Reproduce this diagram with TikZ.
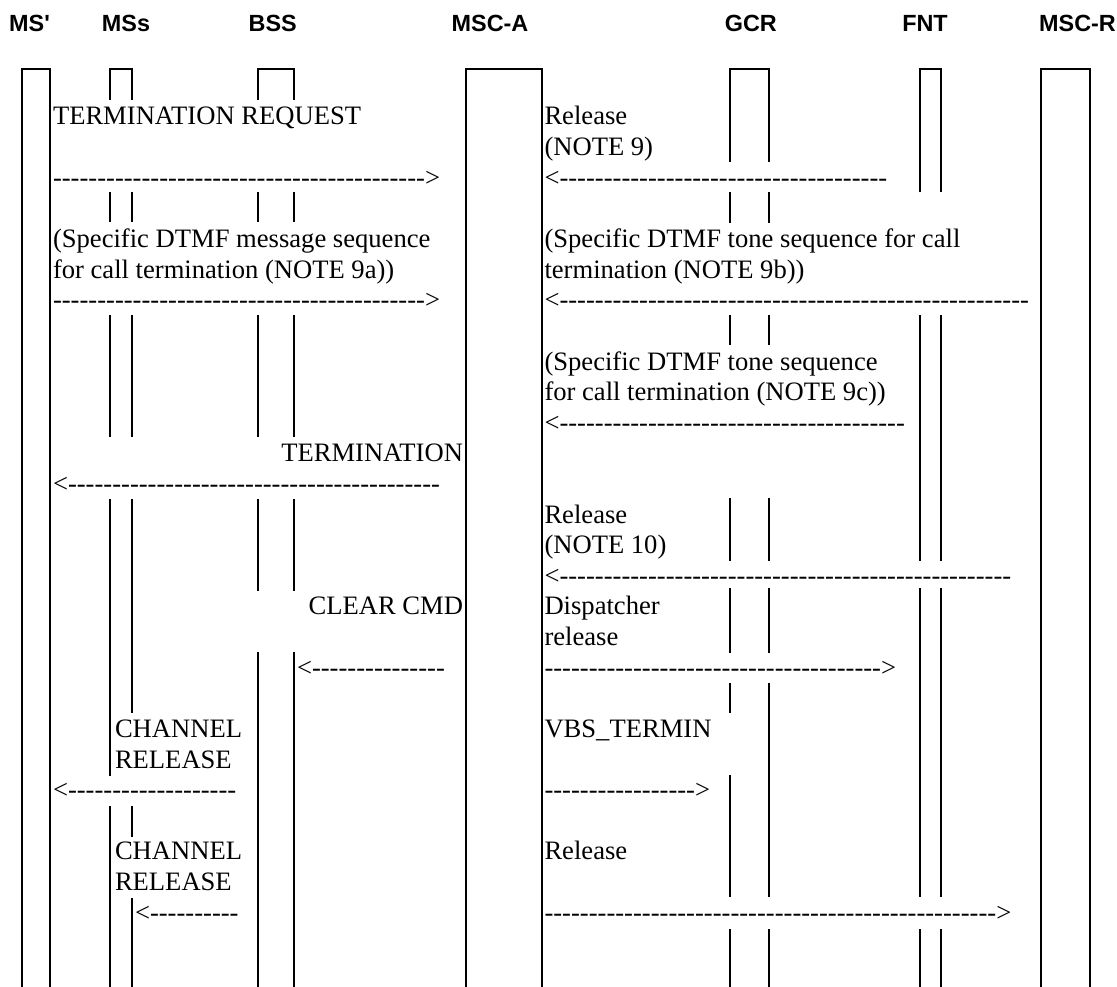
\documentclass[tikz,border=0pt]{standalone}
\usepackage{fontspec}
\setmainfont{Liberation Serif}
\newfontfamily\hdfont{Liberation Sans}[Ligatures=TeXOff]
\newfontfamily\dshfont{Liberation Serif}[Ligatures=TeXOff]
\newcount\hyc
\newcommand\hyph[1]{\hyc=#1\relax\loop\ifnum\hyc>0 -\advance\hyc by -1 \repeat}
\newcommand\larr[1]{{\dshfont <\hyph{#1}}}
\newcommand\rarr[1]{{\dshfont \hyph{#1}>}}
\begin{document}
\begin{tikzpicture}[x=1pt,y=-1pt,
  every node/.style={inner sep=0pt,outer sep=0pt},
  txt/.style={anchor=base west,font=\fontsize{26.6}{30.6}\selectfont},
  rtxt/.style={anchor=base east,font=\fontsize{26.6}{30.6}\selectfont},
  hd/.style={anchor=base,font=\hdfont\bfseries\fontsize{23.4}{28}\selectfont},
  life/.style={line width=2pt,line cap=butt}]
\useasboundingbox (0,0) rectangle (1117,987);
% headers
\node[hd] (hMSp) at (29.5,31.7) {MS'};
\node[hd] (hMSs) at (126,31.7) {MSs};
\node[hd] (hBSS) at (272.7,31.7) {BSS};
\node[hd] (hMSCA) at (490,31.7) {MSC-A};
\node[hd] (hGCR) at (750.8,31.7) {GCR};
\node[hd] (hFNT) at (925,31.7) {FNT};
\node[hd] (hMSCR) at (1077.5,31.7) {MSC-R};
% full lifelines
\draw[life] (22,987) -- (22,69) -- (50,69) -- (50,987);
\draw[life] (466,987) -- (466,69) -- (541.7,69) -- (541.7,987);
\draw[life] (1041,987) -- (1041,69) -- (1090,69) -- (1090,987);
% MSs
\draw[life] (110,100) -- (110,69) -- (131.7,69) -- (131.7,100);
\draw[life] (110,192.3) -- (110,222.5) (131.7,192.3) -- (131.7,222.5);
\draw[life] (110,315) -- (110,437.3) (131.7,315) -- (131.7,437.3);
\draw[life] (110,499.3) -- (110,776) (131.7,499.3) -- (131.7,713);
\draw[life] (110,806) -- (110,987) (131.7,806) -- (131.7,836.7);
\draw[life] (131.7,898.3) -- (131.7,987);
% BSS
\draw[life] (257.7,100) -- (257.7,69) -- (294,69) -- (294,100);
\draw[life] (257.7,192.3) -- (257.7,222.5) (294,192.3) -- (294,222.5);
\draw[life] (257.7,315) -- (257.7,437.3) (294,315) -- (294,437.3);
\draw[life] (257.7,499.3) -- (257.7,591) (294,499.3) -- (294,591);
\draw[life] (257.7,652) -- (257.7,987) (294,652) -- (294,987);
% GCR
\draw[life] (730,161.7) -- (730,69) -- (769,69) -- (769,161.7);
\draw[life] (730,192.3) -- (730,222.7) (769,192.3) -- (769,222.7);
\draw[life] (730,315) -- (730,345) (769,315) -- (769,345);
\draw[life] (730,498.3) -- (730,560.7) (769,498.3) -- (769,560.7);
\draw[life] (730,588) -- (730,652.7) (769,588) -- (769,652.7);
\draw[life] (730,683.3) -- (730,713) (769,683.3) -- (769,897.3);
\draw[life] (730,775) -- (730,897.3);
\draw[life] (730,929.3) -- (730,987) (769,929.3) -- (769,987);
% FNT
\draw[life] (920,192.5) -- (920,69) -- (940.7,69) -- (940.7,192.5);
\draw[life] (920,315) -- (920,560.7) (940.7,315) -- (940.7,560.7);
\draw[life] (920,588) -- (920,897.3) (940.7,588) -- (940.7,897.3);
\draw[life] (920,929.3) -- (920,987) (940.7,929.3) -- (940.7,987);
% left-side texts
\node[txt] (t1) at (53,125) {TERMINATION REQUEST};
\node[txt] (a1) at (53,186.2) {\rarr{42}};
\node[txt] (t2a) at (53,247.5) {(Specific DTMF message sequence};
\node[txt] (t2b) at (53,278.1) {for call termination (NOTE 9a))};
\node[txt] (a2) at (53,308.7) {\rarr{42}};
\node[rtxt] (t4) at (463,461.8) {TERMINATION};
\node[txt] (a4) at (53,492.4) {\larr{42}};
\node[rtxt] (t6) at (463,614.9) {CLEAR CMD};
\node[txt] (a6) at (297,676.2) {\larr{15}};
\node[txt] (t7a) at (115,737.4) {CHANNEL};
\node[txt] (t7b) at (115,768.0) {RELEASE};
\node[txt] (a7) at (53,798.6) {\larr{19}};
\node[txt] (t8a) at (115,859.9) {CHANNEL};
\node[txt] (t8b) at (115,890.5) {RELEASE};
\node[txt] (a8) at (135,921.1) {\larr{10}};
% right-side texts
\node[txt] (r1a) at (544.5,125) {Release};
\node[txt] (r1b) at (544.5,155.6) {(NOTE 9)};
\node[txt] (ra1) at (544.5,186.2) {\larr{37}};
\node[txt] (r2a) at (544.5,247.5) {(Specific DTMF tone sequence for call};
\node[txt] (r2b) at (544.5,278.1) {termination (NOTE 9b))};
\node[txt] (ra2) at (544.5,308.7) {\larr{53}};
\node[txt] (r3a) at (544.5,370.0) {(Specific DTMF tone sequence};
\node[txt] (r3b) at (544.5,400.6) {for call termination (NOTE 9c))};
\node[txt] (ra3) at (544.5,431.2) {\larr{39}};
\node[txt] (r5a) at (544.5,523.1) {Release};
\node[txt] (r5b) at (544.5,553.7) {(NOTE 10)};
\node[txt] (ra5) at (544.5,584.3) {\larr{51}};
\node[txt] (r6a) at (544.5,614.9) {Dispatcher};
\node[txt] (r6b) at (544.5,645.5) {release};
\node[txt] (ra6) at (544.5,676.2) {\rarr{38}};
\node[txt] (r7) at (544.5,737.4) {VBS\_TERMIN};
\node[txt] (ra7) at (544.5,798.6) {\rarr{17}};
\node[txt] (r8) at (544.5,859.9) {Release};
\node[txt] (ra8) at (544.5,921.1) {\rarr{51}};
\end{tikzpicture}
\end{document}
